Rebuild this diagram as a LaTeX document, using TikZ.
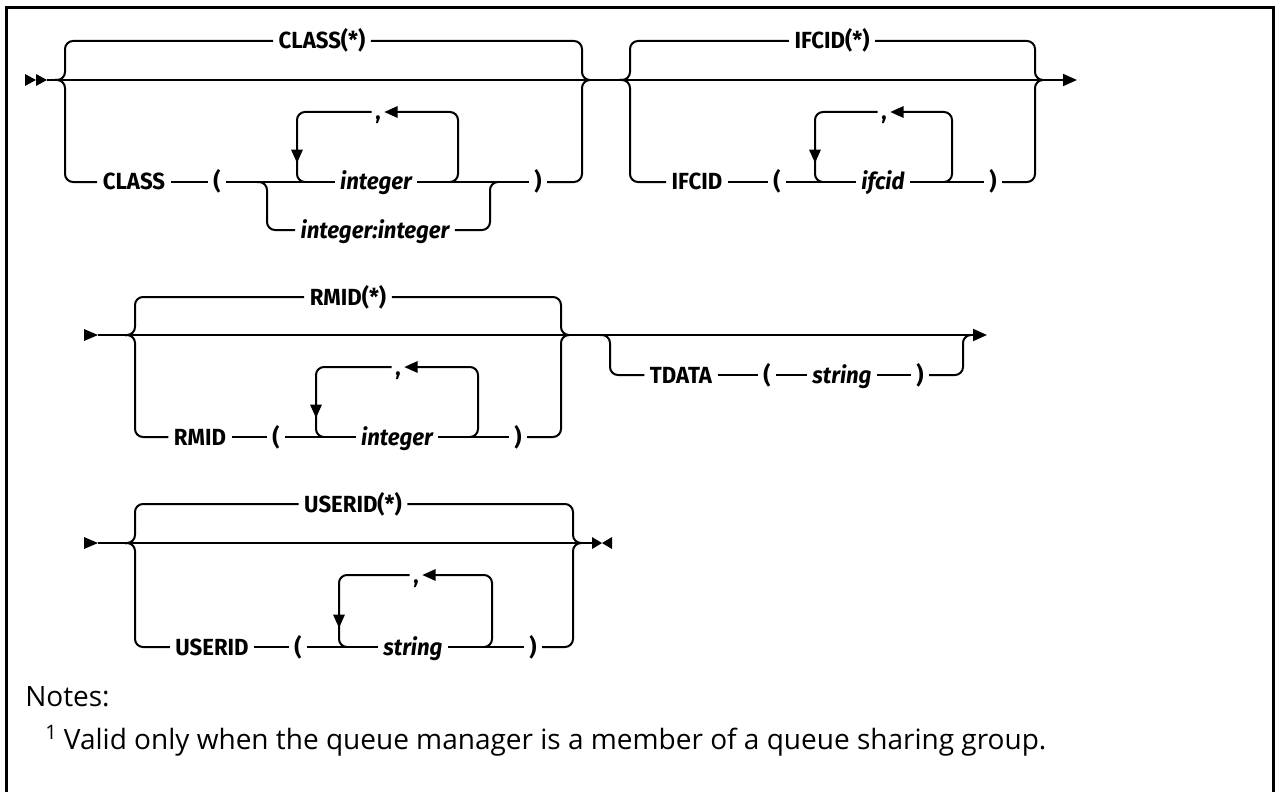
\documentclass[tikz,border=0pt]{standalone}
\usepackage{fontspec}
\setmainfont{Fira Sans}
\newfontfamily\lblfont{Fira Sans}[FakeStretch=0.95]
\newfontfamily\notefont{Open Sans}
\usetikzlibrary{arrows.meta,calc}
\begin{document}
\begin{tikzpicture}[x=0.75pt,y=-0.75pt,
  rail/.style={line width=1.5pt, rounded corners=6pt},
  kw/.style={font=\lblfont\bfseries\fontsize{17.5}{21}\selectfont, inner xsep=4pt, inner ysep=0pt, text height=12pt, text depth=0pt},
  var/.style={kw, font=\lblfont\bfseries\itshape\fontsize{17.5}{21}\selectfont},
  commasep/.style={inner xsep=2.5pt},
  loopar/.style={-{Triangle[length=10pt,width=8.5pt]}},
  endar/.style={-{Triangle[length=10.5pt,width=9pt]}},
  note/.style={font=\notefont\fontsize{21}{25}\selectfont, inner sep=0pt},
  frame/.style={line width=2.25pt}
]
\useasboundingbox (0,0) rectangle (1275,792);
\draw[frame] (6,800) -- (6,8) -- (1273,8) -- (1273,800);

% ---------------- Row 1 ----------------
\coordinate (s1) at (47,80);
\coordinate (e1) at (1077,80);
\fill (25,74) -- (36,80) -- (25,86) -- cycle;
\fill (36,74) -- (47,80) -- (36,86) -- cycle;
\draw[rail,endar] (s1) -- (e1);

% group CLASS
\coordinate (Ain) at (55,80);
\coordinate (Aout) at (590,80);
\node[kw] (c1) at (322,41) {CLASS(*)};
\draw[rail] (Ain) -| (65,41) -- (c1.west);
\draw[rail] (c1.east) -| (582,80) -- (Aout);
\node[kw] (c2) at (134,182) {CLASS};
\node[kw] (p1) at (217,182) {(};
\node[var] (i1) at (376,182) {integer};
\node[kw] (p2) at (538,182) {)};
\node[var] (i2) at (375,230) {integer:integer};
\node[kw,commasep] (k1) at (378,112) {,};
\draw[rail] (Ain) -| (65,182) -- (c2.west);
\draw[rail] (c2.east) -- (p1.west);
\draw[rail] (p1.east) -- (i1.west);
\draw[rail] (i1.east) -- (p2.west);
\draw[rail] (p2.east) -| (582,80) -- (Aout);
\draw[rail] (257,182) -| (267,230) -- (i2.west);
\draw[rail] (i2.east) -| (490,182) -- (498,182);
\draw[rail,loopar] (450,182) -| (458,112) -- (k1.east);
\draw[rail,loopar] (k1.west) -| (297,163);
\draw[rail] (297,158) |- (305,182);

% group IFCID
\coordinate (Bin) at (620,80);
\coordinate (Bout) at (1043,80);
\node[kw] (f1) at (832,41) {IFCID(*)};
\draw[rail] (Bin) -| (630,41) -- (f1.west);
\draw[rail] (f1.east) -| (1035,80) -- (Bout);
\node[kw] (f2) at (697,182) {IFCID};
\node[kw] (p3) at (777,182) {(};
\node[var] (f3) at (883,182) {ifcid};
\node[kw] (p4) at (993,182) {)};
\node[kw,commasep] (k2) at (884,112) {,};
\draw[rail] (Bin) -| (630,182) -- (f2.west);
\draw[rail] (f2.east) -- (p3.west);
\draw[rail] (p3.east) -- (f3.west);
\draw[rail] (f3.east) -- (p4.west);
\draw[rail] (p4.east) -| (1035,80) -- (Bout);
\draw[rail,loopar] (944,182) -| (952,112) -- (k2.east);
\draw[rail,loopar] (k2.west) -| (815,163);
\draw[rail] (815,158) |- (823,182);

% ---------------- Row 2 ----------------
\coordinate (s2) at (98,335);
\coordinate (e2) at (987,335);
\fill (84,329) -- (98,335) -- (84,341) -- cycle;
\draw[rail,endar] (s2) -- (e2);

% group RMID
\coordinate (Cin) at (125,335);
\coordinate (Cout) at (568,335);
\node[kw] (r1) at (348,297) {RMID(*)};
\draw[rail] (Cin) -| (135,297) -- (r1.west);
\draw[rail] (r1.east) -| (561,335) -- (Cout);
\node[kw] (r2) at (200,437) {RMID};
\node[kw] (p5) at (276,437) {(};
\node[var] (r3) at (397,437) {integer};
\node[kw] (p6) at (518,437) {)};
\node[kw,commasep] (k3) at (398,367) {,};
\draw[rail] (Cin) -| (135,437) -- (r2.west);
\draw[rail] (r2.east) -- (p5.west);
\draw[rail] (p5.east) -- (r3.west);
\draw[rail] (r3.east) -- (p6.west);
\draw[rail] (p6.east) -| (561,335) -- (Cout);
\draw[rail,loopar] (470,437) -| (478,367) -- (k3.east);
\draw[rail,loopar] (k3.west) -| (316,418);
\draw[rail] (316,413) |- (324,437);

% group TDATA
\coordinate (Din) at (600,335);
\coordinate (Dout) at (970,335);
\node[kw] (t1) at (681,375) {TDATA};
\node[kw] (p7) at (767,375) {(};
\node[var] (t2) at (842,375) {string};
\node[kw] (p8) at (920,375) {)};
\draw[rail] (Din) -| (610,375) -- (t1.west);
\draw[rail] (t1.east) -- (p7.west);
\draw[rail] (p7.east) -- (t2.west);
\draw[rail] (t2.east) -- (p8.west);
\draw[rail] (p8.east) -| (963,335) -- (Dout);

% ---------------- Row 3 ----------------
\coordinate (s3) at (98,543);
\coordinate (e3) at (592,543);
\fill (84,537) -- (98,543) -- (84,549) -- cycle;
\draw[rail] (s3) -- (e3);
\fill (592,537) -- (602,543) -- (592,549) -- cycle;
\fill (612,537) -- (602,543) -- (612,549) -- cycle;

% group USERID
\coordinate (Ein) at (125,543);
\coordinate (Eout) at (580,543);
\node[kw] (u1) at (353,504) {USERID(*)};
\draw[rail] (Ein) -| (135,504) -- (u1.west);
\draw[rail] (u1.east) -| (573,543) -- (Eout);
\node[kw] (u2) at (212,647) {USERID};
\node[kw] (p9) at (298,647) {(};
\node[var] (u3) at (413,647) {string};
\node[kw] (p10) at (533,647) {)};
\node[kw,commasep] (k4) at (416,575) {,};
\draw[rail] (Ein) -| (135,647) -- (u2.west);
\draw[rail] (u2.east) -- (p9.west);
\draw[rail] (p9.east) -- (u3.west);
\draw[rail] (u3.east) -- (p10.west);
\draw[rail] (p10.east) -| (573,543) -- (Eout);
\draw[rail,loopar] (484,647) -| (492,575) -- (k4.east);
\draw[rail,loopar] (k4.west) -| (339,628);
\draw[rail] (339,623) |- (347,647);

% ---------------- Notes ----------------
\node[note, anchor=base west] (n1) at (25,706) {Notes:};
\node[note, anchor=base west] (n2) at (45,749) {\raisebox{7pt}{\fontsize{15}{15}\selectfont 1} Valid only when the queue manager is a member of a queue sharing group.};
\end{tikzpicture}
\end{document}
